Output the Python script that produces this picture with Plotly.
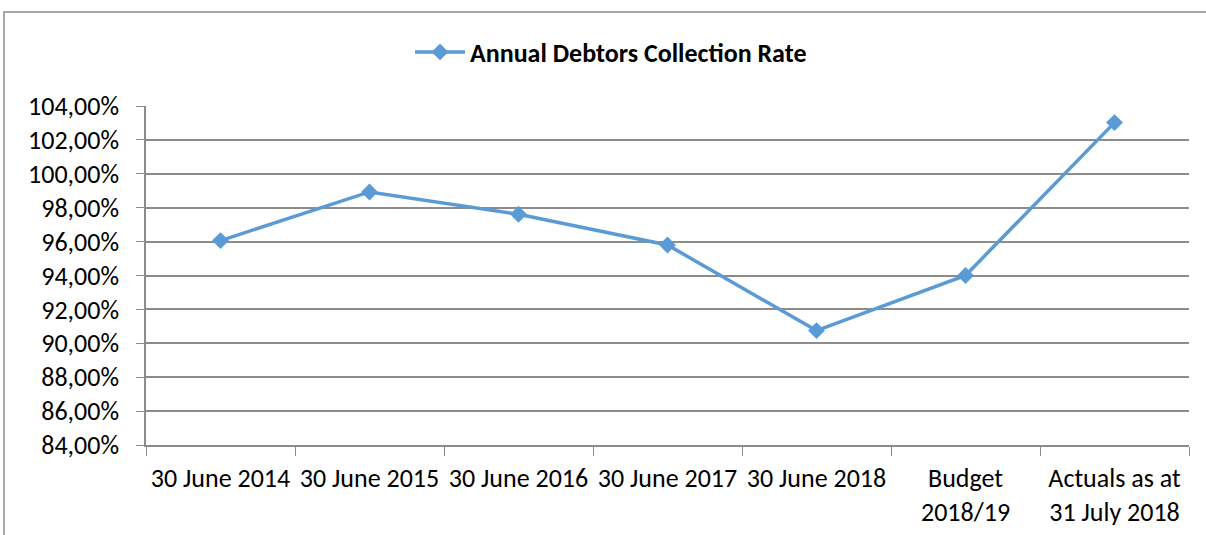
import plotly.graph_objects as go

categories = ["30 June 2014", "30 June 2015", "30 June 2016", "30 June 2017",
              "30 June 2018", "Budget<br>2018/19", "Actuals as at<br>31 July 2018"]
values = [96.06, 98.93, 97.61, 95.80, 90.75, 94.00, 103.02]
series_name = "Annual Debtors Collection Rate"
y_ticks = [84, 86, 88, 90, 92, 94, 96, 98, 100, 102, 104]
y_ticktext = [f"{v:.2f}".replace(".", ",") + "%" for v in y_ticks]

W, H = 1206, 535
ml, mr, mt, mb = 146, 17, 106, 90
pw, ph = W - ml - mr, H - mt - mb

FONT = "Carlito, Calibri, Lato, sans-serif"
FS = 26
GRID = "#8c8c8c"

fig = go.Figure()
fig.add_trace(go.Scatter(
    x=categories, y=values, mode="lines+markers", name=series_name,
    line=dict(color="#5B9BD5", width=3.5),
    marker=dict(symbol="diamond", size=13, color="#5B9BD5"),
))

def px_x(p):
    return (p - ml) / pw

def px_y(p):
    return (H - mb - p) / ph

# outer chart border
fig.add_shape(type="rect", xref="paper", yref="paper",
              x0=px_x(4), x1=px_x(1215), y0=px_y(545), y1=px_y(12),
              line=dict(color="#8c8c8c", width=1.5), fillcolor="rgba(0,0,0,0)")

fig.update_layout(
    width=W, height=H,
    margin=dict(l=ml, r=mr, t=mt, b=mb, autoexpand=False),
    paper_bgcolor="white", plot_bgcolor="white",
    font=dict(family=FONT, size=FS, color="#000000"),
    showlegend=True,
    legend=dict(orientation="h", x=px_x(611), xanchor="center", y=px_y(52), yanchor="middle",
                font=dict(family=FONT, size=FS, color="#000000", weight="bold"),
                itemwidth=50),
    xaxis=dict(type="category", range=[-0.5, len(categories) - 0.5],
               tickson="boundaries", ticks="outside", ticklen=9,
               tickcolor=GRID, showgrid=False, showline=True, linecolor=GRID, linewidth=1.5,
               tickangle=0, ticklabelstandoff=9, tickfont=dict(family=FONT, size=FS)),
    yaxis=dict(range=[84, 104], tickvals=y_ticks, ticktext=y_ticktext,
               ticks="outside", ticklen=8, tickcolor=GRID,
               showgrid=True, gridcolor=GRID, gridwidth=1.5,
               showline=True, linecolor=GRID, linewidth=1.5, zeroline=False,
               ticklabelstandoff=12, tickfont=dict(family=FONT, size=FS)),
)

fig.write_html("out.html", config={"displayModeBar": False},
               post_script="document.body.style.margin='0';")
